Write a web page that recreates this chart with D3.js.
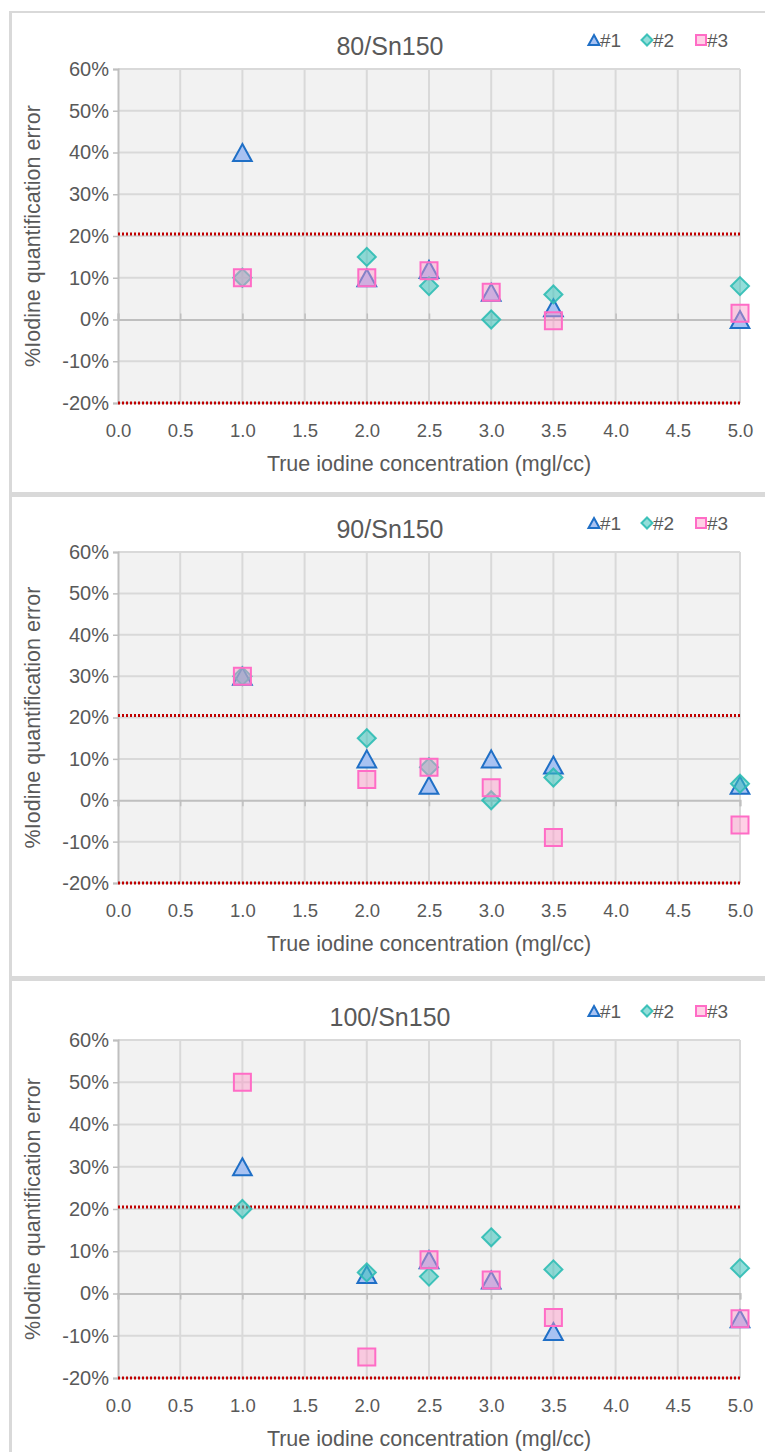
<!DOCTYPE html>
<html>
<head>
<meta charset="utf-8">
<script src="https://cdn.jsdelivr.net/npm/d3@7"></script>
<style>
  body { margin: 0; background: #fff; }
  svg { display: block; }
  text { font-family: "Liberation Sans", Arial, sans-serif; fill: #595959; }
</style>
</head>
<body>
<svg id="chart" width="765" height="1452"></svg>
<script>
// ---- data ----
const concentrations = [1.0, 2.0, 2.5, 3.0, 3.5, 5.0];   // true iodine, mgI/cc
const panelTitles = ["80/Sn150", "90/Sn150", "100/Sn150"];
const seriesNames = ["#1", "#2", "#3"];

// % iodine quantification error, one array per series per protocol
const err80_s1 = [40, 10, 12, 6.5, 2.8, 0];
const err80_s2 = [10, 15, 8, 0, 6, 8];
const err80_s3 = [10, 10, 11.7, 6.5, -0.3, 1.5];

const err90_s1 = [30, 10, 3.6, 10, 8.5, 3.6];
const err90_s2 = [30, 15, 8, 0, 5.5, 4];
const err90_s3 = [30, 5, 8, 3, -9, -6];

const err100_s1 = [30, 4.5, 8, 3.2, -9, -6];
const err100_s2 = [20, 5, 4, 13.3, 5.7, 6];
const err100_s3 = [50, -15, 8, 3.2, -5.7, -6];

const xTicks = [0, 0.5, 1.0, 1.5, 2.0, 2.5, 3.0, 3.5, 4.0, 4.5, 5.0];
const yTicks = [-20, -10, 0, 10, 20, 30, 40, 50, 60];
const toleranceLines = [20.5, -20];

const panelSeries = [
  [err80_s1, err80_s2, err80_s3],
  [err90_s1, err90_s2, err90_s3],
  [err100_s1, err100_s2, err100_s3]
];

// ---- layout ----
const W = 765;
const plotLeft = 118, plotRight = 740;
const chartCenter = 390;
const panels = [
  { top: 12,  plotTop: 69,   plotBottom: 403,  tickUp: true },
  { top: 497, plotTop: 552,  plotBottom: 883,  tickUp: false },
  { top: 981, plotTop: 1040, plotBottom: 1378, tickUp: false }
];

// ---- marker shapes (d3 symbol types) ----
const triangleType = { draw(ctx, size) {
  const w = Math.sqrt(size) * 1.1, h = Math.sqrt(size);
  ctx.moveTo(0, -h / 2); ctx.lineTo(w / 2, h / 2); ctx.lineTo(-w / 2, h / 2); ctx.closePath();
}};
const diamondType = { draw(ctx, size) {
  const r = Math.sqrt(size) / 2;
  ctx.moveTo(0, -r); ctx.lineTo(r, 0); ctx.lineTo(0, r); ctx.lineTo(-r, 0); ctx.closePath();
}};
const squareType = { draw(ctx, size) {
  const r = Math.sqrt(size) / 2;
  ctx.rect(-r, -r, 2 * r, 2 * r);
}};

const seriesStyle = [
  { type: triangleType, size: 17 * 17, legendSize: 10 * 10, fill: "#a8c2f2", stroke: "#1f6fc6", width: 2 },
  { type: diamondType,  size: 18 * 18, legendSize: 11 * 11, fill: "rgba(58,194,187,0.55)", stroke: "rgba(45,188,180,0.9)", width: 2 },
  { type: squareType,   size: 17 * 17, legendSize: 10 * 10, fill: "rgba(255,150,200,0.45)", stroke: "#ff6cc6", width: 2 }
];

const svg = d3.select("#chart");
svg.append("rect").attr("width", W).attr("height", 1452).attr("fill", "#fff");

// outer frame: left edge, top edge, panel separators
svg.append("rect").attr("x", 9).attr("y", 11).attr("width", W).attr("height", 2).attr("fill", "#d9d9d9");
svg.append("rect").attr("x", 9).attr("y", 11).attr("width", 3).attr("height", 1452).attr("fill", "#d9d9d9");
svg.append("rect").attr("x", 9).attr("y", 492).attr("width", W).attr("height", 5).attr("fill", "#d9d9d9");
svg.append("rect").attr("x", 9).attr("y", 976).attr("width", W).attr("height", 5).attr("fill", "#d9d9d9");

const x = d3.scaleLinear().domain([0, 5]).range([plotLeft, plotRight]);
const fmtX = d3.format(".1f");

panels.forEach((p, pi) => {
  const g = svg.append("g");
  const y = d3.scaleLinear().domain([-20, 60]).range([p.plotBottom, p.plotTop]);

  // plot background
  g.append("rect")
    .attr("x", plotLeft).attr("y", p.plotTop)
    .attr("width", plotRight - plotLeft).attr("height", p.plotBottom - p.plotTop)
    .attr("fill", "#f2f2f2");

  // gridlines
  g.append("g").selectAll("line").data(yTicks.filter(v => v !== 0)).join("line")
    .attr("x1", plotLeft).attr("x2", plotRight)
    .attr("y1", d => y(d)).attr("y2", d => y(d))
    .attr("stroke", "#d9d9d9").attr("stroke-width", 2);
  g.append("g").selectAll("line").data(xTicks.slice(1)).join("line")
    .attr("x1", d => x(d)).attr("x2", d => x(d))
    .attr("y1", p.plotTop).attr("y2", p.plotBottom)
    .attr("stroke", "#d9d9d9").attr("stroke-width", 2);

  // y axis with outward ticks
  const yAxis = d3.axisLeft(y).tickValues(yTicks).tickSize(5).tickPadding(4)
    .tickFormat(d => d + "%");
  const ya = g.append("g").attr("transform", `translate(${plotLeft},0)`).call(yAxis);
  ya.select(".domain").attr("stroke", "#bfbfbf").attr("stroke-width", 2);
  ya.selectAll(".tick line").attr("stroke", "#bfbfbf").attr("stroke-width", 1.5);
  ya.selectAll(".tick text").attr("font-size", 20).attr("fill", "#595959")
    .attr("font-family", "Liberation Sans, Arial, sans-serif");

  // horizontal zero line with small ticks
  const x0 = g.append("g").attr("transform", `translate(0,${y(0)})`)
    .call(d3.axisBottom(x).tickValues(xTicks).tickSize(p.tickUp ? -6 : 6).tickFormat(""));
  x0.select(".domain").attr("stroke", "#bfbfbf").attr("stroke-width", 2);
  x0.selectAll(".tick line").attr("stroke", "#bfbfbf").attr("stroke-width", 1.5);

  // x tick labels along the bottom of the plot
  const xl = g.append("g").attr("transform", `translate(0,${p.plotBottom})`)
    .call(d3.axisBottom(x).tickValues(xTicks).tickSize(0).tickPadding(21).tickFormat(fmtX));
  xl.select(".domain").remove();
  xl.selectAll(".tick text").attr("font-size", 18.5).attr("fill", "#595959")
    .attr("font-family", "Liberation Sans, Arial, sans-serif");

  // tolerance band lines
  g.append("g").selectAll("line").data(toleranceLines).join("line")
    .attr("x1", plotLeft).attr("x2", plotRight)
    .attr("y1", d => y(d)).attr("y2", d => y(d))
    .attr("stroke", "#c00000").attr("stroke-width", 3).attr("stroke-dasharray", "2,2");

  // markers
  panelSeries[pi].forEach((vals, si) => {
    const st = seriesStyle[si];
    g.append("g").selectAll("path").data(vals.map((v, i) => [concentrations[i], v])).join("path")
      .attr("transform", d => `translate(${x(d[0])},${y(d[1])})`)
      .attr("d", d3.symbol().type(st.type).size(st.size))
      .attr("fill", st.fill).attr("stroke", st.stroke).attr("stroke-width", st.width)
      .attr("stroke-linejoin", "miter");
  });

  // title
  g.append("text").attr("x", chartCenter).attr("y", p.plotTop - 23)
    .attr("text-anchor", "middle").attr("dominant-baseline", "central")
    .attr("font-size", 25).text(panelTitles[pi]);

  // legend
  const legendX = [594, 647, 701];
  const ly = p.plotTop - 29;
  seriesStyle.forEach((st, si) => {
    g.append("path").attr("transform", `translate(${legendX[si]},${ly})`)
      .attr("d", d3.symbol().type(st.type).size(st.legendSize))
      .attr("fill", st.fill).attr("stroke", st.stroke).attr("stroke-width", 2);
    g.append("text").attr("x", legendX[si] + 6).attr("y", ly)
      .attr("dominant-baseline", "central").attr("font-size", 19).text(seriesNames[si]);
  });

  // axis titles
  g.append("text").attr("x", (plotLeft + plotRight) / 2).attr("y", p.plotBottom + 61)
    .attr("text-anchor", "middle").attr("dominant-baseline", "central")
    .attr("font-size", 21.5).text("True iodine concentration (mgl/cc)");
  g.append("text")
    .attr("transform", `translate(33,${(p.plotTop + p.plotBottom) / 2}) rotate(-90)`)
    .attr("text-anchor", "middle").attr("dominant-baseline", "central")
    .attr("font-size", 21.5).text("%Iodine quantification error");
});
</script>
</body>
</html>
